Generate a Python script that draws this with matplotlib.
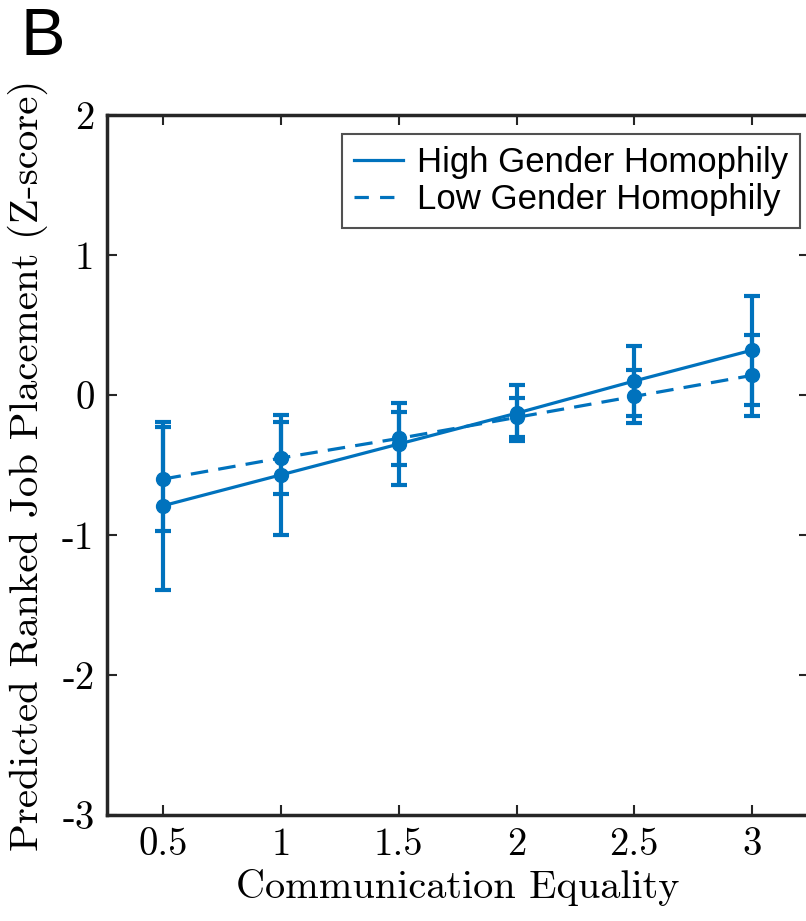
import numpy as np
import matplotlib
matplotlib.use("Agg")
import matplotlib.pyplot as plt
from matplotlib.lines import Line2D

# Communication equality levels
equality = [0.5, 1.0, 1.5, 2.0, 2.5, 3.0]

# predicted ranked job placement (z-score) and error half-widths
high_mean = [-0.79, -0.57, -0.35, -0.13, 0.10, 0.32]
high_err = [0.60, 0.43, 0.29, 0.20, 0.25, 0.39]
low_mean = [-0.60, -0.45, -0.31, -0.16, -0.01, 0.14]
low_err = [0.37, 0.26, 0.19, 0.14, 0.19, 0.29]

x_ticks = [0.5, 1, 1.5, 2, 2.5, 3]
x_tick_labels = ["0.5", "1", "1.5", "2", "2.5", "3"]
y_ticks = [-3, -2, -1, 0, 1, 2]
y_tick_labels = ["-3", "-2", "-1", "0", "1", "2"]

blue = "#0072BD"
dark = "#262626"
dash = (0, (5.5, 3.2))

plt.rcParams["axes.unicode_minus"] = False

fig = plt.figure(figsize=(8.06, 9.21), dpi=100)
ax = fig.add_axes([107 / 806, 106 / 921, 701.5 / 806, 700 / 921])

ax.errorbar(equality, high_mean, yerr=high_err, color=blue, linestyle="-",
            linewidth=2.3, marker="o", markersize=10, elinewidth=3,
            capsize=6, capthick=3)
ax.errorbar(equality, low_mean, yerr=low_err, color=blue, linestyle=dash,
            linewidth=2.3, marker="o", markersize=10, elinewidth=3,
            capsize=6, capthick=3)

ax.set_xlim(0.26, 3.24)
ax.set_ylim(-3, 2)

tick_font = {"family": "cmr10", "size": 28}
ax.set_xticks(x_ticks)
ax.set_xticklabels(x_tick_labels, fontdict=tick_font)
ax.set_yticks(y_ticks)
ax.set_yticklabels(y_tick_labels, fontdict=tick_font)
ax.tick_params(direction="in", length=7, width=1.5, color=dark,
               top=True, right=True, pad=9)

for spine in ax.spines.values():
    spine.set_color(dark)
    spine.set_linewidth(2.5)

ax.set_xlabel("Communication Equality", fontdict={"family": "cmr10", "size": 29},
              labelpad=4)
ax.set_ylabel("Predicted Ranked Job Placement (Z-score)",
              fontdict={"family": "cmr10", "size": 29.5}, labelpad=10)

handles = [Line2D([], [], color=blue, linewidth=2.3, linestyle="-"),
           Line2D([], [], color=blue, linewidth=2.3, linestyle=(0, (4.5, 3.5)))]
labels = ["High Gender Homophily", "Low Gender Homophily"]
leg = ax.legend(handles, labels, loc="upper right", bbox_to_anchor=(0.988, 0.973),
                prop={"family": "Liberation Sans", "size": 25}, frameon=True,
                fancybox=False, handlelength=1.4, handletextpad=0.4,
                borderpad=0.35, labelspacing=0.12, borderaxespad=0)
leg.get_frame().set_edgecolor(dark)
leg.get_frame().set_linewidth(1.5)

fig.text(21 / 806, 1 - 55 / 921, "B", fontsize=48, family="Liberation Sans")

fig.savefig("out.png", dpi=100)
